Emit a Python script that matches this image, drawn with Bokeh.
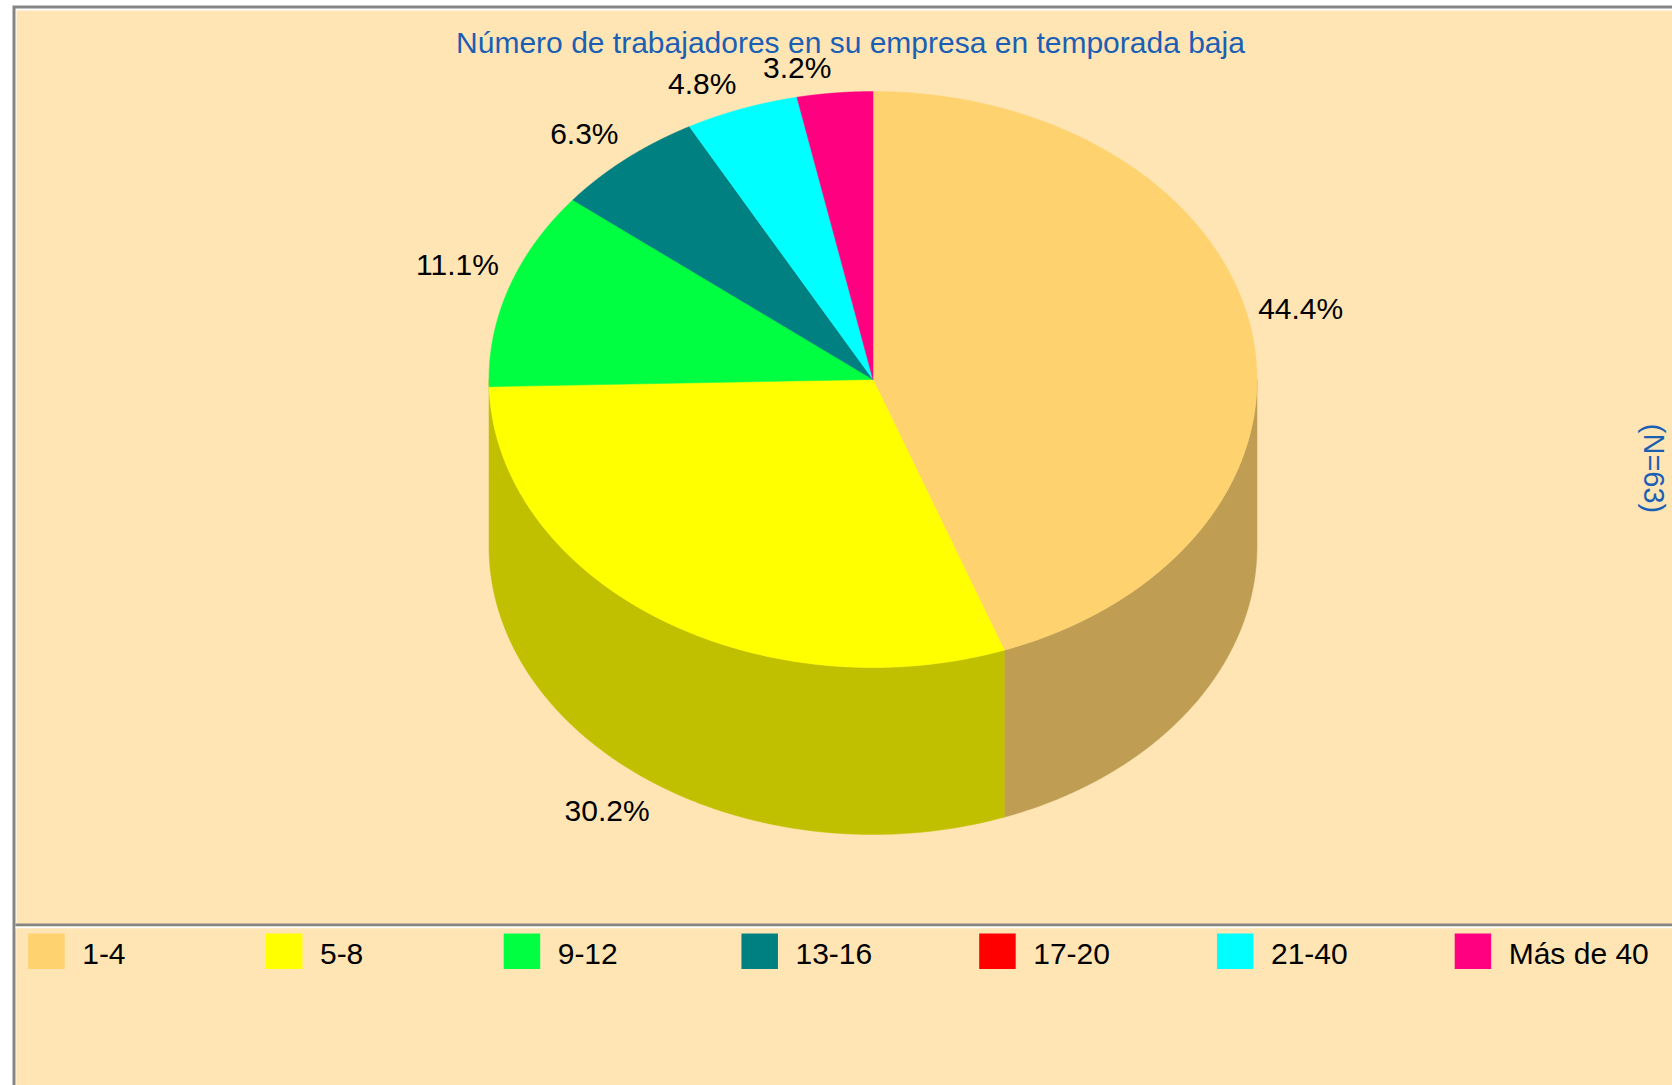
import numpy as np
from bokeh.plotting import figure
from bokeh.models import Range1d
from bokeh.core.properties import value
from bokeh.embed import file_html
from bokeh.resources import INLINE

# Data
categories = ["1-4", "5-8", "9-12", "13-16", "17-20", "21-40", "Más de 40"]
counts = [28, 19, 7, 4, 0, 3, 2]
top_colors = ["#FFD270", "#FFFF00", "#00FF40", "#008080", "#FF0000", "#00FFFF", "#FF0080"]
side_colors = ["#BF9E54", "#C0C000", "#00BF30", "#006060", "#BF0000", "#00BFBF", "#BF0060"]
title_text = "Número de trabajadores en su empresa en temporada baja"
n_text = "(N=63)"

W, H = 1672, 1085
CX, CY, RX, RY, DEPTH = 872.5, 379.0, 384.0, 288.0, 167.0
BG, EDGE, BLUE, FONT = "#FFE5B4", "#858585", "#1B5FB4", "Liberation Sans"
FS = "30px"

p = figure(width=W, height=H, x_range=Range1d(0, W), y_range=Range1d(H, 0),
           output_backend="svg", toolbar_location=None, min_border=0,
           border_fill_color="white", background_fill_color="white",
           outline_line_color=None, x_axis_type=None, y_axis_type=None)
p.grid.visible = False

# panel and frame
p.quad(left=[12], right=[W], top=[5], bottom=[H], fill_color=EDGE, line_color=None)
p.quad(left=[15], right=[W], top=[8], bottom=[H], fill_color="white", line_color=None)
p.quad(left=[16], right=[W], top=[10], bottom=[H], fill_color=BG, line_color=None)
p.quad(left=[15], right=[W], top=[923], bottom=[926], fill_color=EDGE, line_color=None)
p.quad(left=[15], right=[W], top=[926], bottom=[928], fill_color="white", line_color=None)
p.quad(left=[16], right=[W], top=[928], bottom=[H], fill_color=BG, line_color=None)

# pie geometry from the values
total = sum(counts)
shares = np.array(counts) / total
edges = np.concatenate([[0], np.cumsum(shares)]) * 2 * np.pi

def pt(a, dy=0.0):
    return CX + RX * np.sin(a), CY - RY * np.cos(a) + dy

# sides: front half of the ellipse; the last front slice carries the wall to the silhouette
front = [i for i in range(len(counts))
         if counts[i] > 0 and edges[i + 1] > np.pi / 2 and edges[i] < 3 * np.pi / 2 - 0.03]
for i in front:
    lo = max(edges[i], np.pi / 2)
    hi = 3 * np.pi / 2 if i == front[-1] else min(edges[i + 1], 3 * np.pi / 2)
    a = np.linspace(lo, hi, 200)
    x0, y0 = pt(a)
    x1, y1 = pt(a[::-1], DEPTH)
    p.patch(np.concatenate([x0, x1]), np.concatenate([y0, y1]),
            fill_color=side_colors[i], line_color=side_colors[i], line_width=0.5)

# tops
for i in range(len(counts)):
    if counts[i] == 0:
        continue
    a = np.linspace(edges[i], edges[i + 1], 300)
    x0, y0 = pt(a)
    p.patch(np.concatenate([[CX], x0]), np.concatenate([[CY], y0]),
            fill_color=top_colors[i], line_color=top_colors[i], line_width=0.5)

# percentage labels
for i in range(len(counts)):
    if counts[i] == 0:
        continue
    mid = (edges[i] + edges[i + 1]) / 2
    x, y = pt(mid)
    off = 2.5 + 8 * abs(np.sin(mid))
    left_side = np.sin(mid) < 0
    lower = np.cos(mid) < 0
    up = -25 + 2 * np.sin(mid) ** 8 if left_side else -21
    p.text([x - off if left_side else x + 7], [y + (DEPTH + 26 if lower else up)],
           text=[f"{shares[i] * 100:.1f}%"],
           text_align="right" if left_side else "left", text_baseline="middle",
           text_font=value(FONT), text_font_size=FS, text_color="#000000")

# title and N
p.text([850], [42], text=[title_text], text_align="center", text_baseline="middle",
       text_font=value(FONT), text_font_size=FS, text_color=BLUE)
p.text([1653], [468], text=[n_text], angle=-np.pi / 2, text_align="center", text_baseline="middle",
       text_font=value(FONT), text_font_size="29px", text_color=BLUE)

# legend
LX0, LSTEP = 27.7, 237.75
lx = [LX0 + LSTEP * i for i in range(len(categories))]
p.quad(left=lx, right=[v + 36.5 for v in lx], top=[933] * len(lx), bottom=[968.5] * len(lx),
       fill_color=top_colors, line_color=None)
p.text([v + 54 for v in lx], [953] * len(lx), text=categories, text_baseline="middle",
       text_font=value(FONT), text_font_size=FS, text_color="#000000")

open("out.html", "w").write(file_html(p, INLINE))
